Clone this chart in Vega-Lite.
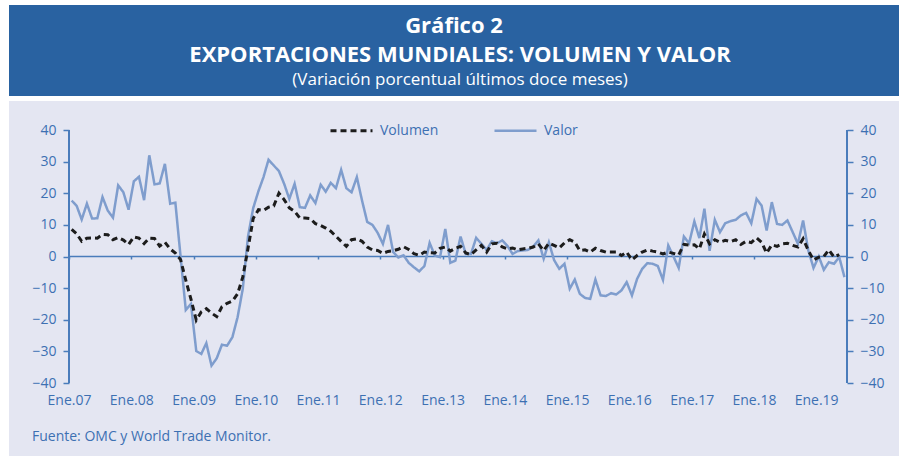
{
  "$schema": "https://vega.github.io/schema/vega-lite/v6.json",
  "background": "white",
  "padding": {"left": 9, "right": 9, "top": 5, "bottom": 0},
  "spacing": 5,
  "config": {
    "font": "Open Sans",
    "view": {"stroke": null},
    "axis": {"labelFont": "Open Sans", "grid": false}
  },
  "datasets": {
    "series": [
      {"fecha": "2007-01", "Volumen": 8.6, "Valor": 17.7},
      {"fecha": "2007-02", "Volumen": 7.2, "Valor": 16.0},
      {"fecha": "2007-03", "Volumen": 4.8, "Valor": 11.7},
      {"fecha": "2007-04", "Volumen": 5.8, "Valor": 16.7},
      {"fecha": "2007-05", "Volumen": 5.9, "Valor": 12.0},
      {"fecha": "2007-06", "Volumen": 5.8, "Valor": 12.1},
      {"fecha": "2007-07", "Volumen": 7.0, "Valor": 18.8},
      {"fecha": "2007-08", "Volumen": 6.9, "Valor": 14.5},
      {"fecha": "2007-09", "Volumen": 5.3, "Valor": 12.3},
      {"fecha": "2007-10", "Volumen": 6.0, "Valor": 22.5},
      {"fecha": "2007-11", "Volumen": 5.2, "Valor": 20.3},
      {"fecha": "2007-12", "Volumen": 3.8, "Valor": 14.8},
      {"fecha": "2008-01", "Volumen": 6.2, "Valor": 23.8},
      {"fecha": "2008-02", "Volumen": 5.8, "Valor": 25.2},
      {"fecha": "2008-03", "Volumen": 4.1, "Valor": 17.8},
      {"fecha": "2008-04", "Volumen": 5.8, "Valor": 32.0},
      {"fecha": "2008-05", "Volumen": 5.7, "Valor": 22.8},
      {"fecha": "2008-06", "Volumen": 3.3, "Valor": 23.1},
      {"fecha": "2008-07", "Volumen": 4.5, "Valor": 29.3},
      {"fecha": "2008-08", "Volumen": 2.4, "Valor": 16.7},
      {"fecha": "2008-09", "Volumen": 1.1, "Valor": 17.0},
      {"fecha": "2008-10", "Volumen": -1.0, "Valor": 0.0},
      {"fecha": "2008-11", "Volumen": -7.5, "Valor": -16.9},
      {"fecha": "2008-12", "Volumen": -13.5, "Valor": -15.0},
      {"fecha": "2009-01", "Volumen": -20.1, "Valor": -29.9},
      {"fecha": "2009-02", "Volumen": -17.5, "Valor": -30.8},
      {"fecha": "2009-03", "Volumen": -16.5, "Valor": -27.4},
      {"fecha": "2009-04", "Volumen": -17.9, "Valor": -34.5},
      {"fecha": "2009-05", "Volumen": -19.0, "Valor": -32.2},
      {"fecha": "2009-06", "Volumen": -15.9, "Valor": -27.9},
      {"fecha": "2009-07", "Volumen": -14.8, "Valor": -28.2},
      {"fecha": "2009-08", "Volumen": -14.1, "Valor": -25.5},
      {"fecha": "2009-09", "Volumen": -11.8, "Valor": -19.2},
      {"fecha": "2009-10", "Volumen": -6.5, "Valor": -10.2},
      {"fecha": "2009-11", "Volumen": 2.5, "Valor": 6.3},
      {"fecha": "2009-12", "Volumen": 12.0, "Valor": 15.3},
      {"fecha": "2010-01", "Volumen": 14.8, "Valor": 20.7},
      {"fecha": "2010-02", "Volumen": 14.6, "Valor": 25.1},
      {"fecha": "2010-03", "Volumen": 15.6, "Valor": 30.6},
      {"fecha": "2010-04", "Volumen": 16.0, "Valor": 28.8},
      {"fecha": "2010-05", "Volumen": 20.0, "Valor": 27.0},
      {"fecha": "2010-06", "Volumen": 18.0, "Valor": 23.0},
      {"fecha": "2010-07", "Volumen": 15.4, "Valor": 18.2},
      {"fecha": "2010-08", "Volumen": 14.3, "Valor": 23.0},
      {"fecha": "2010-09", "Volumen": 12.2, "Valor": 15.6},
      {"fecha": "2010-10", "Volumen": 12.2, "Valor": 15.4},
      {"fecha": "2010-11", "Volumen": 12.0, "Valor": 19.3},
      {"fecha": "2010-12", "Volumen": 10.4, "Valor": 16.9},
      {"fecha": "2011-01", "Volumen": 9.8, "Valor": 22.7},
      {"fecha": "2011-02", "Volumen": 9.0, "Valor": 20.5},
      {"fecha": "2011-03", "Volumen": 8.0, "Valor": 23.3},
      {"fecha": "2011-04", "Volumen": 6.4, "Valor": 21.6},
      {"fecha": "2011-05", "Volumen": 4.8, "Valor": 27.4},
      {"fecha": "2011-06", "Volumen": 3.2, "Valor": 21.6},
      {"fecha": "2011-07", "Volumen": 5.3, "Valor": 20.3},
      {"fecha": "2011-08", "Volumen": 5.6, "Valor": 25.1},
      {"fecha": "2011-09", "Volumen": 4.8, "Valor": 17.7},
      {"fecha": "2011-10", "Volumen": 3.0, "Valor": 10.9},
      {"fecha": "2011-11", "Volumen": 2.1, "Valor": 10.0},
      {"fecha": "2011-12", "Volumen": 1.9, "Valor": 7.5},
      {"fecha": "2012-01", "Volumen": 1.0, "Valor": 4.0},
      {"fecha": "2012-02", "Volumen": 1.6, "Valor": 10.0},
      {"fecha": "2012-03", "Volumen": 1.8, "Valor": 1.4},
      {"fecha": "2012-04", "Volumen": 2.3, "Valor": -0.3},
      {"fecha": "2012-05", "Volumen": 3.1, "Valor": 0.4},
      {"fecha": "2012-06", "Volumen": 2.2, "Valor": -2.0},
      {"fecha": "2012-07", "Volumen": 0.9, "Valor": -3.4},
      {"fecha": "2012-08", "Volumen": 0.4, "Valor": -4.7},
      {"fecha": "2012-09", "Volumen": 1.4, "Valor": -3.0},
      {"fecha": "2012-10", "Volumen": 1.2, "Valor": 4.3},
      {"fecha": "2012-11", "Volumen": 1.1, "Valor": 0.3},
      {"fecha": "2012-12", "Volumen": 2.6, "Valor": -0.2},
      {"fecha": "2013-01", "Volumen": 3.0, "Valor": 8.7},
      {"fecha": "2013-02", "Volumen": 1.7, "Valor": -2.0},
      {"fecha": "2013-03", "Volumen": 2.6, "Valor": -1.3},
      {"fecha": "2013-04", "Volumen": 3.2, "Valor": 6.3},
      {"fecha": "2013-05", "Volumen": 1.1, "Valor": 0.8},
      {"fecha": "2013-06", "Volumen": 0.6, "Valor": 0.8},
      {"fecha": "2013-07", "Volumen": 2.1, "Valor": 5.9},
      {"fecha": "2013-08", "Volumen": 3.5, "Valor": 4.0},
      {"fecha": "2013-09", "Volumen": 1.4, "Valor": 2.1},
      {"fecha": "2013-10", "Volumen": 4.0, "Valor": 4.8},
      {"fecha": "2013-11", "Volumen": 4.2, "Valor": 4.2},
      {"fecha": "2013-12", "Volumen": 3.0, "Valor": 5.1},
      {"fecha": "2014-01", "Volumen": 2.4, "Valor": 3.3},
      {"fecha": "2014-02", "Volumen": 2.7, "Valor": 0.8},
      {"fecha": "2014-03", "Volumen": 2.1, "Valor": 1.7},
      {"fecha": "2014-04", "Volumen": 2.4, "Valor": 1.9},
      {"fecha": "2014-05", "Volumen": 2.6, "Valor": 2.1},
      {"fecha": "2014-06", "Volumen": 3.0, "Valor": 3.1},
      {"fecha": "2014-07", "Volumen": 4.0, "Valor": 5.1},
      {"fecha": "2014-08", "Volumen": 1.9, "Valor": -0.7},
      {"fecha": "2014-09", "Volumen": 4.2, "Valor": 4.5},
      {"fecha": "2014-10", "Volumen": 3.5, "Valor": -1.1},
      {"fecha": "2014-11", "Volumen": 2.7, "Valor": -3.9},
      {"fecha": "2014-12", "Volumen": 4.3, "Valor": -2.3},
      {"fecha": "2015-01", "Volumen": 5.3, "Valor": -10.2},
      {"fecha": "2015-02", "Volumen": 4.5, "Valor": -7.3},
      {"fecha": "2015-03", "Volumen": 1.9, "Valor": -11.8},
      {"fecha": "2015-04", "Volumen": 2.1, "Valor": -13.1},
      {"fecha": "2015-05", "Volumen": 1.4, "Valor": -13.4},
      {"fecha": "2015-06", "Volumen": 2.6, "Valor": -7.3},
      {"fecha": "2015-07", "Volumen": 1.9, "Valor": -12.3},
      {"fecha": "2015-08", "Volumen": 1.4, "Valor": -12.5},
      {"fecha": "2015-09", "Volumen": 1.4, "Valor": -11.6},
      {"fecha": "2015-10", "Volumen": 1.4, "Valor": -12.0},
      {"fecha": "2015-11", "Volumen": 0.3, "Valor": -10.7},
      {"fecha": "2015-12", "Volumen": 1.4, "Valor": -8.1},
      {"fecha": "2016-01", "Volumen": -1.1, "Valor": -12.3},
      {"fecha": "2016-02", "Volumen": 0.3, "Valor": -7.1},
      {"fecha": "2016-03", "Volumen": 1.4, "Valor": -3.9},
      {"fecha": "2016-04", "Volumen": 2.1, "Valor": -2.1},
      {"fecha": "2016-05", "Volumen": 1.7, "Valor": -2.3},
      {"fecha": "2016-06", "Volumen": 1.4, "Valor": -3.0},
      {"fecha": "2016-07", "Volumen": 0.8, "Valor": -7.4},
      {"fecha": "2016-08", "Volumen": 1.4, "Valor": 3.5},
      {"fecha": "2016-09", "Volumen": 1.0, "Valor": 0.0},
      {"fecha": "2016-10", "Volumen": 0.5, "Valor": -3.6},
      {"fecha": "2016-11", "Volumen": 3.8, "Valor": 6.3},
      {"fecha": "2016-12", "Volumen": 3.6, "Valor": 4.2},
      {"fecha": "2017-01", "Volumen": 3.7, "Valor": 11.1},
      {"fecha": "2017-02", "Volumen": 2.4, "Valor": 5.8},
      {"fecha": "2017-03", "Volumen": 7.1, "Valor": 15.1},
      {"fecha": "2017-04", "Volumen": 4.0, "Valor": 1.8},
      {"fecha": "2017-05", "Volumen": 5.3, "Valor": 11.6},
      {"fecha": "2017-06", "Volumen": 4.5, "Valor": 7.7},
      {"fecha": "2017-07", "Volumen": 5.1, "Valor": 10.5},
      {"fecha": "2017-08", "Volumen": 4.7, "Valor": 11.2},
      {"fecha": "2017-09", "Volumen": 5.3, "Valor": 11.6},
      {"fecha": "2017-10", "Volumen": 3.8, "Valor": 13.0},
      {"fecha": "2017-11", "Volumen": 4.8, "Valor": 13.8},
      {"fecha": "2017-12", "Volumen": 4.4, "Valor": 10.5},
      {"fecha": "2018-01", "Volumen": 5.9, "Valor": 18.2},
      {"fecha": "2018-02", "Volumen": 4.5, "Valor": 16.1},
      {"fecha": "2018-03", "Volumen": 1.1, "Valor": 8.2},
      {"fecha": "2018-04", "Volumen": 3.7, "Valor": 17.2},
      {"fecha": "2018-05", "Volumen": 3.2, "Valor": 10.3},
      {"fecha": "2018-06", "Volumen": 4.0, "Valor": 10.0},
      {"fecha": "2018-07", "Volumen": 4.2, "Valor": 11.4},
      {"fecha": "2018-08", "Volumen": 3.5, "Valor": 7.7},
      {"fecha": "2018-09", "Volumen": 3.0, "Valor": 4.0},
      {"fecha": "2018-10", "Volumen": 5.6, "Valor": 11.4},
      {"fecha": "2018-11", "Volumen": 1.9, "Valor": 1.9},
      {"fecha": "2018-12", "Volumen": -1.1, "Valor": -3.6},
      {"fecha": "2019-01", "Volumen": -0.2, "Valor": 0.0},
      {"fecha": "2019-02", "Volumen": 0.0, "Valor": -4.2},
      {"fecha": "2019-03", "Volumen": 2.1, "Valor": -1.8},
      {"fecha": "2019-04", "Volumen": -0.2, "Valor": -2.3},
      {"fecha": "2019-05", "Volumen": 0.6, "Valor": -0.2},
      {"fecha": "2019-06", "Volumen": null, "Valor": -6.5}
    ]
  },
  "vconcat": [
    {
      "width": 890,
      "height": 91,
      "view": {"fill": "#2962a1", "stroke": null},
      "layer": [
        {
          "data": {"values": [{"linea": 1, "texto": "Gráfico 2"}]},
          "mark": {"type": "text", "fontSize": 22, "fontWeight": "bold", "color": "white", "align": "center", "baseline": "middle", "dy": 1},
          "encoding": {
            "y": {"field": "linea", "type": "ordinal", "scale": {"type": "point", "domain": [1, 2, 3], "padding": 0.75}, "axis": null},
            "text": {"field": "texto"}
          }
        },
        {
          "data": {"values": [{"linea": 2, "texto": "EXPORTACIONES MUNDIALES: VOLUMEN Y VALOR"}]},
          "mark": {"type": "text", "fontSize": 22, "fontWeight": "bold", "color": "white", "align": "center", "baseline": "middle", "dy": 4, "dx": 6},
          "encoding": {
            "y": {"field": "linea", "type": "ordinal", "scale": {"type": "point", "domain": [1, 2, 3], "padding": 0.75}, "axis": null},
            "text": {"field": "texto"}
          }
        },
        {
          "data": {"values": [{"linea": 3, "texto": "(Variación porcentual últimos doce meses)"}]},
          "mark": {"type": "text", "fontSize": 17, "color": "white", "align": "center", "baseline": "middle", "dy": 3, "dx": 6},
          "encoding": {
            "y": {"field": "linea", "type": "ordinal", "scale": {"type": "point", "domain": [1, 2, 3], "padding": 0.75}, "axis": null},
            "text": {"field": "texto"}
          }
        }
      ]
    },
    {
      "width": 890,
      "height": 355,
      "view": {"fill": "#e4e6f2", "stroke": null},
      "title": {
        "text": "Fuente: OMC y World Trade Monitor.",
        "orient": "bottom",
        "anchor": "start",
        "frame": "group",
        "offset": -19,
        "dx": 23,
        "baseline": "middle",
        "fontSize": 14,
        "fontWeight": "normal",
        "color": "#3d70b2"
      },
      "data": {"name": "series"},
      "layer": [
        {
          "data": {"values": [{}]},
          "mark": {"type": "rule", "color": "#4a7cbb", "strokeWidth": 1.5},
          "encoding": {
            "x": {
              "datum": {"year": 2007, "month": 1, "date": 1, "utc": true},
              "type": "temporal",
              "scale": {"type": "utc", "domain": [{"year": 2006, "month": 1, "date": 14, "utc": true}, {"year": 2020, "month": 5, "date": 1, "utc": true}]},
              "axis": {
                "orient": "bottom",
                "offset": -200,
                "values": [
                  {"year": 2007, "month": 1, "date": 1, "utc": true},
                  {"year": 2008, "month": 1, "date": 1, "utc": true},
                  {"year": 2009, "month": 1, "date": 1, "utc": true},
                  {"year": 2010, "month": 1, "date": 1, "utc": true},
                  {"year": 2011, "month": 1, "date": 1, "utc": true},
                  {"year": 2012, "month": 1, "date": 1, "utc": true},
                  {"year": 2013, "month": 1, "date": 1, "utc": true},
                  {"year": 2014, "month": 1, "date": 1, "utc": true},
                  {"year": 2015, "month": 1, "date": 1, "utc": true},
                  {"year": 2016, "month": 1, "date": 1, "utc": true},
                  {"year": 2017, "month": 1, "date": 1, "utc": true},
                  {"year": 2018, "month": 1, "date": 1, "utc": true},
                  {"year": 2019, "month": 1, "date": 1, "utc": true}
                ],
                "labels": false,
                "domain": false,
                "ticks": true,
                "tickSize": 3,
                "tickWidth": 1.5,
                "tickColor": "#4a7cbb",
                "title": null
              }
            },
            "x2": {"datum": {"year": 2019, "month": 7, "date": 1, "utc": true}},
            "y": {
              "datum": 0,
              "type": "quantitative",
              "scale": {"domain": [-63.08, 49.17], "nice": false, "zero": false},
              "axis": {
                "orient": "right",
                "offset": -52,
                "values": [-40, -30, -20, -10, 0, 10, 20, 30, 40],
                "domain": false,
                "tickSize": 6,
                "tickWidth": 1.5,
                "tickColor": "#4a7cbb",
                "labelPadding": 7,
                "labelFontSize": 14,
                "labelColor": "#3d70b2",
                "title": null
              }
            }
          }
        },
        {
          "data": {"values": [{"borde": "2007-01"}, {"borde": "2019-07"}]},
          "mark": {"type": "rule", "color": "#4a7cbb", "strokeWidth": 2},
          "encoding": {
            "x": {
              "field": "borde",
              "type": "temporal",
              "scale": {"type": "utc", "domain": [{"year": 2006, "month": 1, "date": 14, "utc": true}, {"year": 2020, "month": 5, "date": 1, "utc": true}]},
              "axis": {
                "orient": "bottom",
                "offset": -73,
                "values": [
                  {"year": 2007, "month": 1, "date": 1, "utc": true},
                  {"year": 2008, "month": 1, "date": 1, "utc": true},
                  {"year": 2009, "month": 1, "date": 1, "utc": true},
                  {"year": 2010, "month": 1, "date": 1, "utc": true},
                  {"year": 2011, "month": 1, "date": 1, "utc": true},
                  {"year": 2012, "month": 1, "date": 1, "utc": true},
                  {"year": 2013, "month": 1, "date": 1, "utc": true},
                  {"year": 2014, "month": 1, "date": 1, "utc": true},
                  {"year": 2015, "month": 1, "date": 1, "utc": true},
                  {"year": 2016, "month": 1, "date": 1, "utc": true},
                  {"year": 2017, "month": 1, "date": 1, "utc": true},
                  {"year": 2018, "month": 1, "date": 1, "utc": true},
                  {"year": 2019, "month": 1, "date": 1, "utc": true}
                ],
                "labelExpr": "'Ene.' + utcFormat(datum.value, '%y')",
                "labelFlush": false,
                "labelOverlap": false,
                "domain": false,
                "ticks": false,
                "labelPadding": 10,
                "labelFontSize": 14,
                "labelColor": "#3d70b2",
                "title": null
              }
            },
            "y": {
              "datum": -40,
              "type": "quantitative",
              "scale": {"domain": [-63.08, 49.17], "nice": false, "zero": false},
              "axis": {
                "orient": "left",
                "offset": -60,
                "values": [-40, -30, -20, -10, 0, 10, 20, 30, 40],
                "domain": false,
                "tickSize": 6,
                "tickWidth": 1.5,
                "tickColor": "#4a7cbb",
                "labelPadding": 7,
                "labelFontSize": 14,
                "labelColor": "#3d70b2",
                "title": null
              }
            },
            "y2": {"datum": 40}
          }
        },
        {
          "transform": [{"fold": ["Valor", "Volumen"], "as": ["serie", "pct"]}],
          "mark": {"type": "line", "interpolate": "linear"},
          "encoding": {
            "x": {
              "field": "fecha",
              "type": "temporal",
              "timeUnit": "utcyearmonth",
              "bandPosition": 0.5,
              "scale": {"type": "utc", "domain": [{"year": 2006, "month": 1, "date": 14, "utc": true}, {"year": 2020, "month": 5, "date": 1, "utc": true}]},
              "axis": null
            },
            "y": {
              "field": "pct",
              "type": "quantitative",
              "scale": {"domain": [-63.08, 49.17], "nice": false, "zero": false},
              "axis": null
            },
            "color": {
              "field": "serie",
              "type": "nominal",
              "scale": {"domain": ["Volumen", "Valor"], "range": ["#1c1c1c", "#7f9dcd"]},
              "legend": {
                "orient": "none",
                "legendX": 320,
                "legendY": 103,
                "direction": "horizontal",
                "title": null,
                "padding": 0,
                "symbolType": "stroke",
                "symbolSize": 1764,
                "symbolStrokeWidth": 3,
                "labelFontSize": 14,
                "labelColor": "#3d70b2",
                "labelOffset": 6,
                "columnPadding": 50
              }
            },
            "strokeDash": {
              "field": "serie",
              "type": "nominal",
              "scale": {"domain": ["Volumen", "Valor"], "range": [[6, 4], [1, 0]]},
              "legend": {
                "orient": "none",
                "legendX": 320,
                "legendY": 103,
                "direction": "horizontal",
                "title": null,
                "padding": 0,
                "symbolType": "stroke",
                "symbolSize": 1764,
                "symbolStrokeWidth": 3,
                "labelFontSize": 14,
                "labelColor": "#3d70b2",
                "labelOffset": 6,
                "columnPadding": 50
              }
            },
            "strokeWidth": {
              "field": "serie",
              "type": "nominal",
              "scale": {"domain": ["Volumen", "Valor"], "range": [3, 2.5]},
              "legend": null
            }
          }
        }
      ],
      "resolve": {"axis": {"x": "independent", "y": "independent"}}
    }
  ]
}
